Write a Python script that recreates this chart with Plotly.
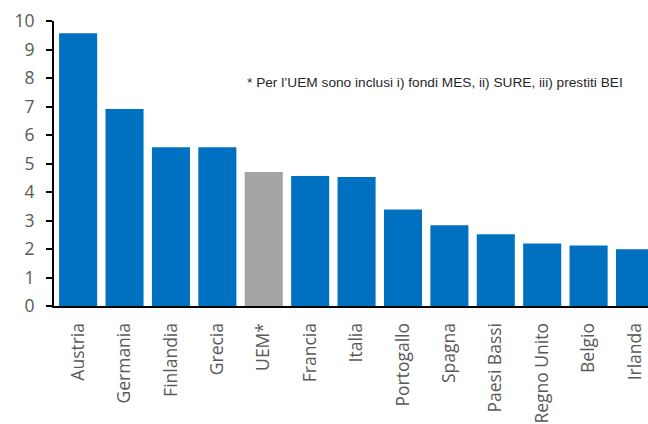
import plotly.graph_objects as go

# Paesi e valori (% del PIL)
paesi = ["Austria", "Germania", "Finlandia", "Grecia", "UEM*", "Francia", "Italia",
         "Portogallo", "Spagna", "Paesi Bassi", "Regno Unito", "Belgio", "Irlanda"]
valori = [9.57, 6.91, 5.57, 5.57, 4.70, 4.56, 4.53, 3.39, 2.83, 2.52, 2.19, 2.12, 1.99]

BLU = "#0070C0"
GRIGIO = "#A5A5A5"
colori = [GRIGIO if p == "UEM*" else BLU for p in paesi]

fig = go.Figure(go.Bar(
    x=paesi, y=valori,
    marker=dict(color=colori, line=dict(width=0)),
))

fig.add_annotation(
    x=0.3215, y=7.83, xref="paper", yref="y",
    text="* Per l\u2019UEM sono inclusi i) fondi MES, ii) SURE, iii) prestiti BEI",
    showarrow=False, xanchor="left", yanchor="middle",
    font=dict(family="Liberation Sans, Arial", size=13.7, color="#262626"),
)

fig.update_layout(
    width=648, height=424,
    margin=dict(l=54, r=0, t=21, b=118),
    paper_bgcolor="white", plot_bgcolor="white",
    bargap=0.18, showlegend=False,
    font=dict(family="Open Sans", color="#595959"),
)
fig.update_xaxes(
    range=[-0.52, 12.28], tickangle=-90, showgrid=False,
    showline=True, linecolor="black", linewidth=2,
    ticks="", ticklabelstandoff=8,
    tickfont=dict(family="Open Sans", size=17.5, color="#595959"),
)
fig.update_yaxes(
    range=[0, 10], dtick=1, showgrid=False, zeroline=False,
    showline=True, linecolor="black", linewidth=2,
    ticks="outside", ticklen=6, tickwidth=1.5, tickcolor="black",
    ticklabelstandoff=8,
    tickfont=dict(family="Open Sans", size=17.5, color="#595959"),
)

fig.write_html("out.html")
